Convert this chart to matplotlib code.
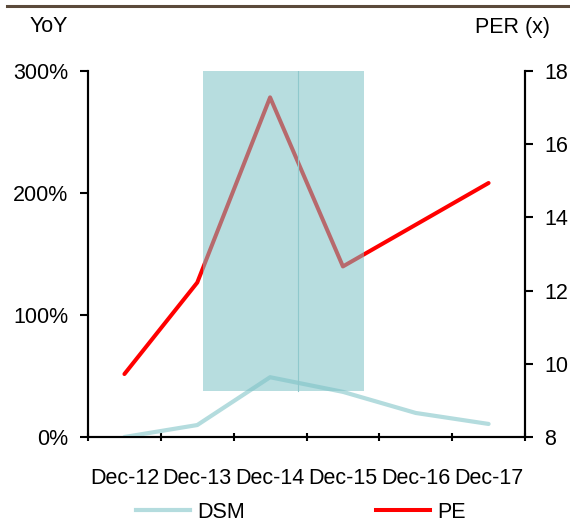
import matplotlib
matplotlib.use("Agg")
import matplotlib.pyplot as plt
from matplotlib.patches import Rectangle
from matplotlib.lines import Line2D

plt.rcParams['font.family'] = ['Liberation Sans', 'DejaVu Sans']

periods = ["Dec-12", "Dec-13", "Dec-14", "Dec-15", "Dec-16", "Dec-17"]
dsm_yoy = [0.0, 9.8, 49.0, 37.0, 19.7, 10.7]          # % (left axis)
pe_ratio = [9.72, 12.22, 17.28, 12.66, 13.80, 14.94]  # x (right axis)

yoy_ticks = [0, 100, 200, 300]
yoy_tick_labels = ["0%", "100%", "200%", "300%"]
per_ticks = [8, 10, 12, 14, 16, 18]

# highlighted band (category units, % units)
band_x = (1.08, 3.29)
band_y = (38.0, 300.0)
band_split = 2.38

DSM_COLOR = "#b4dcde"
PE_COLOR = "#ff0000"
BAND_COLOR = "#7cc1c6"

fig = plt.figure(figsize=(5.70, 5.29), dpi=100)
ax = fig.add_axes([88/570, 1-437/529, (525-88)/570, (437-71)/529])
ax2 = ax.twinx()

x = list(range(len(periods)))
ax.plot(x, dsm_yoy, color=DSM_COLOR, lw=3.0, solid_capstyle="round", zorder=3)
ax2.plot(x, pe_ratio, color=PE_COLOR, lw=2.9, solid_capstyle="round", zorder=3)

band = Rectangle((band_x[0], band_y[0]), band_x[1]-band_x[0], band_y[1]-band_y[0],
                 transform=ax.transData, facecolor=BAND_COLOR, edgecolor="none",
                 alpha=0.55, zorder=5)
ax2.add_patch(band)
ax2.plot([band_split, band_split], band_y, transform=ax.transData,
         color="#8fc8cc", lw=0.8, zorder=6)

ax.set_xlim(-0.5, len(periods)-0.5)
ax.set_ylim(0, 300)
ax2.set_ylim(8, 18)

ax.set_yticks(yoy_ticks)
ax.set_yticklabels(yoy_tick_labels)
ax2.set_yticks(per_ticks)

ax.set_xticks(x)
ax.set_xticklabels(periods)
ax.set_xticks([i - 0.5 for i in range(len(periods)+1)], minor=True)
ax.tick_params(axis="x", which="major", length=0, pad=22, labelsize=15.5)
ax.tick_params(axis="x", which="minor", length=6, width=1.5, direction="inout")
ax.tick_params(axis="y", length=6, width=1.5, pad=8, labelsize=15.5, direction="out")
ax2.tick_params(axis="y", length=6, width=1.5, pad=8, labelsize=15.5, direction="out")

for a in (ax, ax2):
    a.spines["top"].set_visible(False)
    for s in ("left", "right", "bottom"):
        a.spines[s].set_linewidth(1.5)
        a.spines[s].set_color("black")

fig.text(30/570, 1-27/529, "YoY", fontsize=15.5, va="center", ha="left")
fig.text(550/570, 1-27/529, "PER (x)", fontsize=15.5, va="center", ha="right")

# rule across the top
fig.add_artist(Line2D([7/570, 1.0], [1-6/529, 1-6/529], color="#5b4a3b", lw=2.2))

handles = [Line2D([], [], color=DSM_COLOR, lw=3.0),
           Line2D([], [], color=PE_COLOR, lw=2.9)]
fig.legend(handles, ["DSM", "PE"], loc="center", bbox_to_anchor=(0.528, 1-512/529),
           ncol=2, frameon=False, fontsize=15.5, handlelength=2.5,
           handletextpad=0.35, columnspacing=6.1)

fig.savefig("out.png", dpi=100)
